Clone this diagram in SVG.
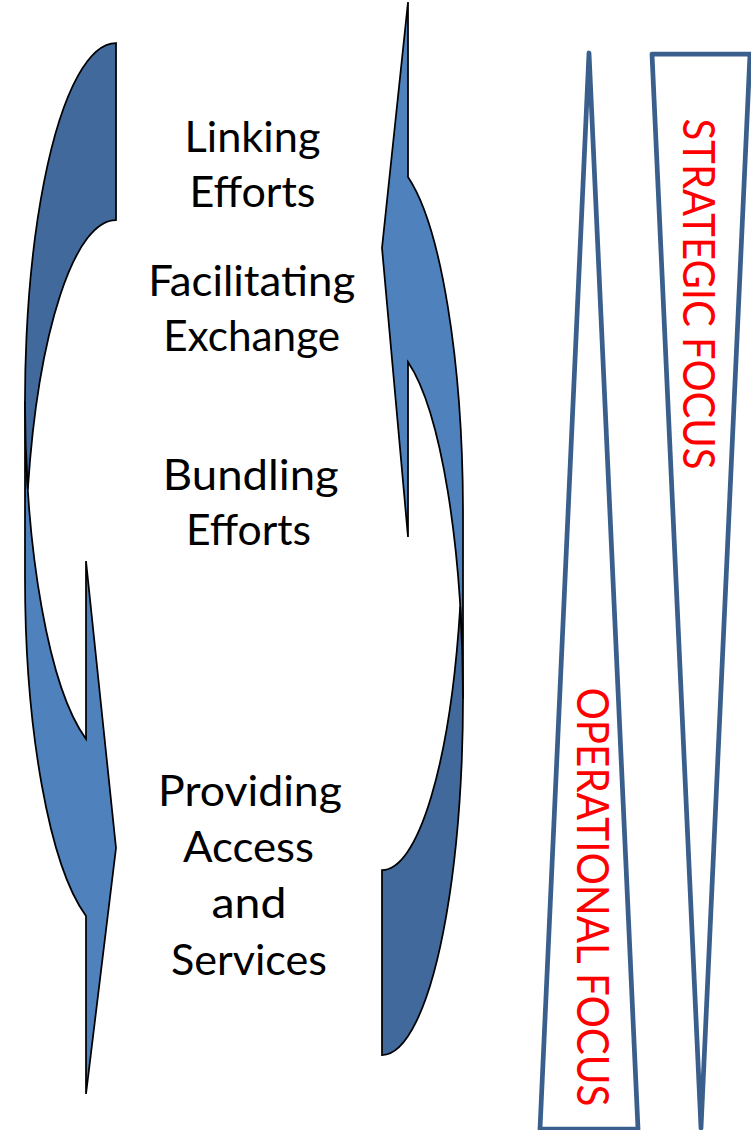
<svg xmlns="http://www.w3.org/2000/svg" width="751" height="1130" viewBox="0 0 751 1130">
  <style>
    .body { fill: #4F81BD; stroke: #000; stroke-width: 1.75; }
    .shade { fill: #41699B; stroke: #000; stroke-width: 1.75; }
    .label { font-family: Lato, "Open Sans", "Noto Sans", sans-serif; font-size: 43px; fill: #000; text-anchor: middle; }
    .focus { font-family: Lato, "Open Sans", "Noto Sans", sans-serif; font-size: 44px; fill: #FF0000; text-anchor: middle; }
    .wedge { fill: #fff; stroke: #3A5F8D; stroke-width: 4.75; stroke-linejoin: round; }
  </style>
  <rect width="751" height="1130" fill="#fff"/>

  <!-- left curved arrow, sweeping down the left side and pointing right -->
  <g id="arrow-left">
    <path class="body" d="M25,401 A91,358 0 0 0 86,739 L86,561 L116,848 L86,1094 L86,916 A91,358 0 0 1 25,578 Z"/>
    <path class="shade" d="M116,220 A91,358 0 0 0 27.83,489.5 A91,358 0 0 1 116,43 Z"/>
  </g>

  <!-- right curved arrow, sweeping up the right side and pointing left -->
  <g id="arrow-right">
    <path class="body" d="M463,699 A81,356 0 0 0 408,362 L408,537 L382,248 L408,2 L408,177 A81,356 0 0 1 463,514 Z"/>
    <path class="shade" d="M382,870 A81,356 0 0 0 460.2,606.5 A81,356 0 0 1 382,1055 Z"/>
  </g>

  <!-- stage labels -->
  <g id="label-linking">
    <text class="label" x="252.5" y="152" textLength="136" lengthAdjust="spacingAndGlyphs">Linking</text>
    <text class="label" x="252.5" y="207" textLength="126" lengthAdjust="spacingAndGlyphs">Efforts</text>
  </g>
  <g id="label-facilitating">
    <text class="label" x="251.7" y="296" textLength="207" lengthAdjust="spacingAndGlyphs">Facilitating</text>
    <text class="label" x="251.7" y="351" textLength="177" lengthAdjust="spacingAndGlyphs">Exchange</text>
  </g>
  <g id="label-bundling">
    <text class="label" x="250.8" y="490" textLength="176" lengthAdjust="spacingAndGlyphs">Bundling</text>
    <text class="label" x="248.5" y="545" textLength="125" lengthAdjust="spacingAndGlyphs">Efforts</text>
  </g>
  <g id="label-providing">
    <text class="label" x="250" y="806" textLength="184" lengthAdjust="spacingAndGlyphs">Providing</text>
    <text class="label" x="248.5" y="862" textLength="131" lengthAdjust="spacingAndGlyphs">Access</text>
    <text class="label" x="249" y="918" textLength="75" lengthAdjust="spacingAndGlyphs">and</text>
    <text class="label" x="249" y="975" textLength="156" lengthAdjust="spacingAndGlyphs">Services</text>
  </g>

  <!-- focus wedges -->
  <g id="wedge-operational">
    <polygon class="wedge" points="589,53 638,1129 540,1129"/>
    <text class="focus" transform="translate(577,897) rotate(90)" x="0" y="0" textLength="419" lengthAdjust="spacingAndGlyphs">OPERATIONAL FOCUS</text>
  </g>
  <g id="wedge-strategic">
    <polygon class="wedge" points="652,54 750,54 701,1128"/>
    <text class="focus" transform="translate(683,294) rotate(90)" x="0" y="0" textLength="351" lengthAdjust="spacingAndGlyphs">STRATEGIC FOCUS</text>
  </g>
</svg>
